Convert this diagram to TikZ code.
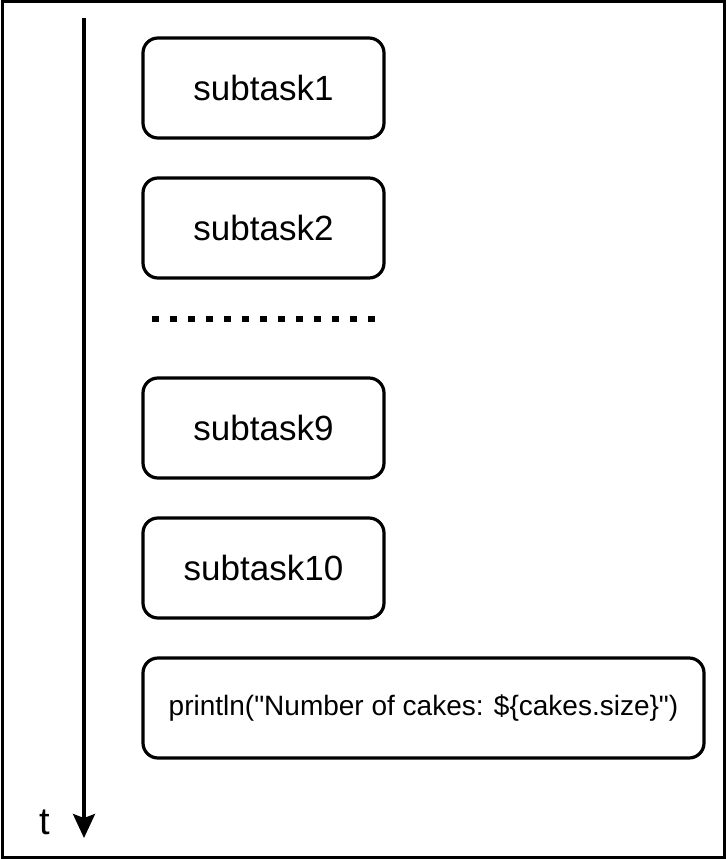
\documentclass[tikz,border=0pt]{standalone}
\usepackage{fontspec}
\setmainfont{Liberation Sans}
\newfontfamily\codefont{Liberation Sans}
\usetikzlibrary{arrows.meta}

\begin{document}
\begin{tikzpicture}[
        x=1pt, y=-1pt,
        task/.style={
            rectangle,
            draw,
            rounded corners=15pt,
            line width=3.2pt,
            minimum width=241pt,
            minimum height=100pt,
            font=\fontsize{35}{40}\selectfont
        },
        wide/.style={
            task,
            minimum width=561pt,
            font=\codefont\fontsize{28}{32}\selectfont
        }
    ]

        \useasboundingbox (0,0) rectangle (726,859);
        \draw[line width=3pt] (2,2) rectangle (724,857);

        \node[task] (s1) at (263.5,88) {subtask1};
        \node[task] (s2) at (263.5,228) {subtask2};
        \node[task] (s9) at (263.5,428) {subtask9};
        \node[task] (s10) at (263.5,568) {subtask10};
        \node[wide] (pr) at (423.5,708) {println("Number of cakes: \$\{cakes.size\}")};

        \coordinate (dotsL) at (152,319);
        \coordinate (dotsR) at (378,319);
        \draw[line width=6.5pt, dash pattern=on 6.5pt off 11.5pt] (dotsL) -- (dotsR);

        \coordinate (tTop) at (84,18);
        \coordinate (tEnd) at (84,838);
        \draw[line width=3.2pt, -{Stealth[length=24pt,width=22pt,inset=4pt]}] (tTop) -- (tEnd);
        \node[font=\fontsize{38}{44}\selectfont] (tlabel) at (45,822) {t};

    \end{tikzpicture}
\end{document}
